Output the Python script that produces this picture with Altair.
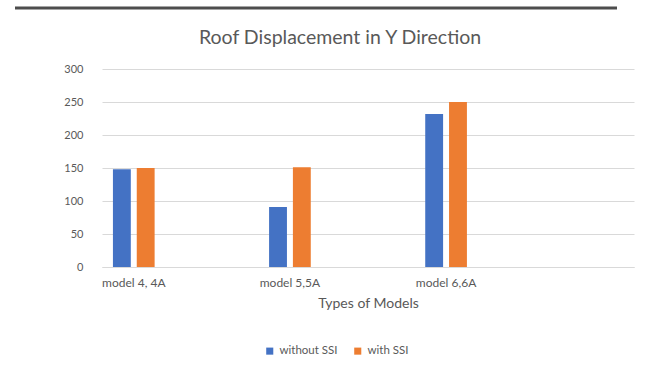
import altair as alt
import pandas as pd

categories = ["model 4, 4A", "model 5,5A", "model 6,6A"]
without_ssi = [148, 91, 232]
with_ssi = [150, 151, 250]
series_names = ["without SSI", "with SSI"]
domain_cats = categories + [" "]

rows = []
for c, a, b in zip(categories, without_ssi, with_ssi):
    rows.append({"model": c, "series": series_names[0], "value": a})
    rows.append({"model": c, "series": series_names[1], "value": b})
df = pd.DataFrame(rows)

FONT = "Lato"
GREY = "#595959"

bars = alt.Chart(df).mark_bar().encode(
    x=alt.X("model:N", scale=alt.Scale(domain=domain_cats, paddingInner=0.733, paddingOuter=0.07),
            sort=domain_cats,
            axis=alt.Axis(title="Types of Models", labelAngle=0, labelFontSize=12, labelColor=GREY,
                          labelFont=FONT, titleFont=FONT, titleFontSize=14, titleColor=GREY,
                          titleFontWeight="normal", ticks=False, domainColor="#D9D9D9",
                          labelPadding=10, titlePadding=8, grid=False)),
    xOffset=alt.XOffset("series:N", sort=series_names, scale=alt.Scale(paddingInner=0.25)),
    y=alt.Y("value:Q", scale=alt.Scale(domain=[0, 300]),
            axis=alt.Axis(title=None, values=[0, 50, 100, 150, 200, 250, 300], labelFontSize=11,
                          labelColor=GREY, labelFont=FONT, ticks=False, domain=False,
                          gridColor="#D9D9D9", labelPadding=19)),
    color=alt.Color("series:N", sort=series_names,
                    scale=alt.Scale(domain=series_names, range=["#4472C4", "#ED7D31"]),
                    legend=alt.Legend(title=None, orient="none", direction="horizontal",
                                      legendX=162, legendY=276, symbolType="square", symbolSize=50,
                                      labelFontSize=11.5, labelFont=FONT, labelColor=GREY,
                                      columnPadding=14, symbolStrokeWidth=0)),
)

frame = alt.Chart(pd.DataFrame({"v": [0]})).mark_rule(color="#4d4d4d", strokeWidth=3).encode(
    x=alt.value(-87), x2=alt.value(515), y=alt.value(-61)
)

chart = alt.layer(bars, frame).properties(
    width=532, height=198,
    background="white",
    title=alt.TitleParams("Roof Displacement in Y Direction", font=FONT, fontSize=19.5,
                          color=GREY, fontWeight="normal", anchor="middle", dx=-28, offset=-42),
    autosize=alt.AutoSizeParams(type="none"),
    padding={"left": 102, "top": 69, "right": 22, "bottom": 103},
).configure_view(strokeWidth=0, stroke="transparent")

chart.save("out.html", embed_options={"renderer": "svg", "actions": False})
